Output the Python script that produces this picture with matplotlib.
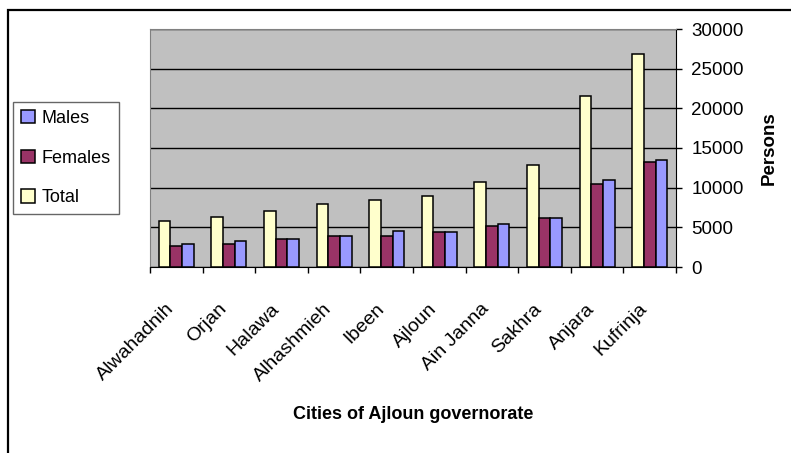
import numpy as np
import matplotlib.pyplot as plt
from matplotlib.patches import Rectangle
from matplotlib.transforms import ScaledTranslation

plt.rcParams['font.family'] = ['Liberation Sans', 'DejaVu Sans']

cities = ['Alwahadnih', 'Orjan', 'Halawa', 'Alhashmieh', 'Ibeen',
          'Ajloun', 'Ain Janna', 'Sakhra', 'Anjara', 'Kufrinja']
males = [2950, 3250, 3500, 3950, 4500, 4450, 5450, 6200, 11000, 13500]
females = [2700, 2950, 3500, 3950, 3950, 4450, 5200, 6200, 10500, 13250]
total = [5750, 6250, 7000, 8000, 8500, 9000, 10750, 12800, 21550, 26800]

W, H = 791, 453
fig = plt.figure(figsize=(W / 100, H / 100), dpi=100)

# outer chart frame (only top and left edges visible in the crop)
fig.add_artist(Rectangle((8 / W, -0.1), 1.2, 1 - 10 / H + 0.1,
                         transform=fig.transFigure, fill=False,
                         edgecolor='black', linewidth=1.6))

ax = fig.add_axes([150 / W, 1 - 267 / H, 526 / W, 238 / H])
ax.set_facecolor('#C0C0C0')

x = np.arange(len(cities))
bw = 1 / 4.5
ax.bar(x - bw, total, bw, color='#FFFFCC', edgecolor='black', linewidth=1.1, label='Total', zorder=3)
ax.bar(x, females, bw, color='#993366', edgecolor='black', linewidth=1.1, label='Females', zorder=3)
ax.bar(x + bw, males, bw, color='#9999FF', edgecolor='black', linewidth=1.1, label='Males', zorder=3)

ax.set_xlim(-0.5, len(cities) - 0.5)
ax.set_ylim(0, 30000)
ax.set_yticks(np.arange(0, 30001, 5000))
ax.yaxis.tick_right()
ax.yaxis.set_label_position('right')
ax.grid(axis='y', color='black', linewidth=1.0, zorder=1)
ax.tick_params(axis='y', direction='out', length=4, width=1, pad=7, labelsize=13.5)

ax.set_xticks(np.arange(-0.5, len(cities)), minor=True)
ax.set_xticks(x)
ax.set_xticklabels(cities, rotation=45, ha='right', rotation_mode='anchor', fontsize=14)
ax.tick_params(axis='x', which='major', length=0, pad=24)
ax.tick_params(axis='x', which='minor', length=4, width=1)
shift = ScaledTranslation(-11 / 100, 0, fig.dpi_scale_trans)
for lab in ax.get_xticklabels():
    lab.set_transform(lab.get_transform() + shift)

for s in ['top', 'left']:
    ax.spines[s].set_color('#808080')
for s in ['bottom', 'right']:
    ax.spines[s].set_color('black')

ax.set_ylabel('Persons', fontsize=13.5, fontweight='bold', labelpad=12)
ax.set_xlabel('Cities of Ajloun governorate', fontsize=13, fontweight='bold', labelpad=15)

h, l = ax.get_legend_handles_labels()
leg = fig.legend(h[::-1], l[::-1], loc='upper left', bbox_to_anchor=(13 / W, 1 - 102 / H),
                 fontsize=13, frameon=True, fancybox=False, handlelength=0.75,
                 handleheight=0.75, handletextpad=0.4, labelspacing=1.25,
                 borderpad=0.45, borderaxespad=0)
leg.get_frame().set_edgecolor('#404040')
leg.get_frame().set_linewidth(1.0)

fig.savefig('out.png', dpi=100)
